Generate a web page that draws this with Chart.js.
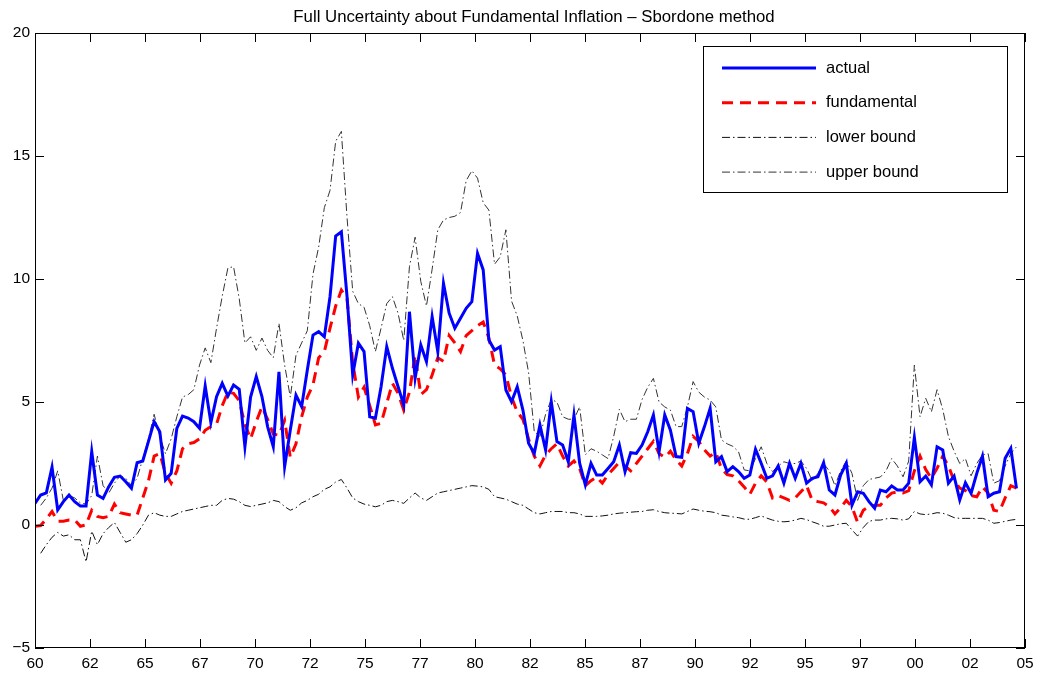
<!DOCTYPE html>
<html>
<head>
<meta charset="utf-8">
<script src="https://cdn.jsdelivr.net/npm/chart.js@4.4.1/dist/chart.umd.min.js"></script>
<style>
  html, body { margin: 0; padding: 0; background: #fff; }
  #wrap { width: 1043px; height: 677px; }
</style>
</head>
<body>
<div id="wrap"><canvas id="chart" width="1043" height="677"></canvas></div>
<script>
// quarterly observations, 1960Q1 onwards (index 0 = first quarter)
const actual = [
  0.88, 1.22, 1.31, 2.35, 0.61, 0.95, 1.22, 0.95, 0.77, 0.77,
  2.98, 1.22, 1.08, 1.56, 1.94, 1.99, 1.76, 1.49, 2.53, 2.60,
  3.4, 4.20, 3.79, 1.83, 2.10, 3.93, 4.43, 4.35, 4.2, 3.93,
  5.65, 4.16, 5.22, 5.76, 5.24, 5.69, 5.52, 3.18, 5.2, 6.03,
  5.22, 4.0, 3.18, 6.23, 2.37, 3.86, 5.28, 4.81, 6.30, 7.72,
  7.86, 7.65, 9.28, 11.75, 11.92, 9.28, 6.10, 7.39, 7.05, 4.40,
  4.34, 5.62, 7.25, 6.37, 5.62, 4.88, 8.67, 5.96, 7.32, 6.64,
  8.47, 7.05, 9.82, 8.61, 8.0, 8.40, 8.81, 9.08, 11.04, 10.37,
  7.52, 7.11, 7.25, 5.49, 5.01, 5.62, 4.67, 3.32, 2.91, 4.07,
  3.05, 5.01, 3.39, 3.25, 2.57, 4.47, 2.51, 1.63, 2.51, 2.03,
  2.03, 2.30, 2.57, 3.25, 2.17, 2.94, 2.91, 3.25, 3.79, 4.47,
  2.98, 4.47, 3.85, 2.78, 2.75, 4.74, 4.61, 3.32, 4.0, 4.74,
  2.57, 2.78, 2.17, 2.37, 2.17, 1.90, 2.03, 3.08, 2.51, 1.90,
  2.0, 2.40, 1.70, 2.51, 1.90, 2.51, 1.70, 1.90, 1.96, 2.53,
  1.42, 1.22, 2.03, 2.51, 0.81, 1.35, 1.29, 0.95, 0.68, 1.42,
  1.35, 1.59, 1.42, 1.42, 1.70, 3.56, 1.76, 1.99, 1.63, 3.18,
  3.05, 1.70, 1.99, 1.02, 1.72, 1.29, 2.10, 2.80, 1.15, 1.29,
  1.35, 2.71, 3.12, 1.49
];
const fundamental = [
  -0.05, -0.02, 0.25, 0.55, 0.15, 0.15, 0.2, 0.2, -0.05, 0.0,
  0.6, 0.35, 0.3, 0.35, 0.85, 0.5, 0.45, 0.4, 0.4, 1.1,
  1.8, 2.8, 2.9, 2.1, 1.7, 2.2, 3.1, 3.3, 3.35, 3.5,
  3.85, 4.0, 4.1, 4.85, 5.4, 5.35, 5.05, 4.1, 3.5, 4.2,
  4.8, 4.3, 3.7, 3.65, 4.25, 2.75, 3.3, 4.4, 5.2, 5.7,
  6.8, 7.05, 8.0, 8.9, 9.55, 9.2, 6.6, 5.2, 5.6, 4.85,
  4.07, 4.13, 4.95, 5.76, 5.35, 4.67, 5.4, 6.9, 5.3, 5.5,
  6.1, 6.8, 6.65, 7.7, 7.4, 7.05, 7.7, 7.9, 8.1, 8.25,
  7.6, 6.5, 6.35, 6.1, 5.2, 4.6, 4.3, 3.5, 2.8, 2.4,
  2.85, 3.1, 3.3, 2.8, 2.4, 2.6, 2.3, 1.6, 1.8, 1.95,
  1.7, 2.05, 2.3, 2.55, 2.4, 2.2, 2.5, 2.8, 3.1, 3.4,
  2.9, 2.75, 3.0, 2.65, 2.4, 2.9, 3.6, 3.4, 3.05, 2.8,
  2.95, 2.3, 2.05, 2.0, 1.8, 1.55, 1.25, 1.7, 2.0, 1.75,
  1.1, 1.2, 1.1, 1.0, 1.1, 1.35, 1.6, 1.0, 0.95, 0.9,
  0.75, 0.45, 0.7, 1.0, 0.75, 0.1, 0.6, 0.75, 0.8, 0.8,
  1.1, 1.3, 1.35, 1.3, 1.4, 2.2, 2.8, 2.25, 1.9, 2.3,
  2.8, 2.4, 1.8, 1.5, 1.4, 1.2, 1.15, 1.55, 1.3, 0.6,
  0.55, 1.1, 1.6, 1.5
];
const lowerBound = [
  null, -1.15, -0.8, -0.5, -0.3, -0.45, -0.4, -0.6, -0.6, -1.5,
  -0.25, -0.8, -0.35, -0.1, 0.1, -0.3, -0.7, -0.6, -0.35, 0.0,
  0.4, 0.5, 0.4, 0.35, 0.35, 0.45, 0.55, 0.6, 0.65, 0.7,
  0.75, 0.8, 0.8, 1.0, 1.08, 1.05, 0.95, 0.8, 0.75, 0.8,
  0.85, 0.9, 1.0, 0.95, 0.75, 0.6, 0.7, 0.9, 1.0, 1.15,
  1.25, 1.45, 1.55, 1.75, 1.85, 1.5, 1.1, 0.95, 0.85, 0.8,
  0.74, 0.8, 0.95, 1.0, 0.95, 0.88, 1.1, 1.3, 1.1, 1.0,
  1.15, 1.3, 1.35, 1.4, 1.45, 1.5, 1.55, 1.6, 1.58, 1.55,
  1.45, 1.15, 1.1, 1.05, 0.95, 0.85, 0.8, 0.65, 0.5, 0.45,
  0.5, 0.55, 0.55, 0.55, 0.5, 0.5, 0.45, 0.35, 0.35, 0.35,
  0.37, 0.4, 0.45, 0.48, 0.5, 0.52, 0.54, 0.55, 0.6, 0.62,
  0.55, 0.5, 0.48, 0.47, 0.45, 0.55, 0.65, 0.6, 0.56, 0.54,
  0.5, 0.4, 0.37, 0.33, 0.3, 0.24, 0.23, 0.3, 0.37, 0.28,
  0.2, 0.15, 0.13, 0.15, 0.2, 0.27, 0.22, 0.13, 0.05, -0.05,
  -0.05, 0.0, 0.05, 0.07, -0.2, -0.45, -0.1, 0.15, 0.2, 0.2,
  0.25, 0.27, 0.25, 0.2, 0.25, 0.55, 0.45, 0.42, 0.45, 0.5,
  0.48, 0.4, 0.3, 0.27, 0.27, 0.27, 0.27, 0.27, 0.2, 0.07,
  0.1, 0.15, 0.2, 0.23
];
const upperBound = [
  null, 0.8, 1.1, 1.5, 2.2, 1.0, 1.2, 1.1, 0.9, 0.85,
  1.2, 2.8, 1.6, 1.3, 1.7, 2.0, 1.9, 1.6, 1.9, 2.7,
  3.5, 4.5, 3.6, 2.9, 3.5, 4.4, 5.2, 5.3, 5.5, 6.5,
  7.2, 6.6, 8.0, 9.3, 10.45, 10.5, 9.2, 7.4, 7.65, 7.1,
  7.6, 7.1, 6.8, 8.2, 6.5, 5.2, 6.9, 7.4, 7.9, 10.2,
  11.3, 12.9, 13.6, 15.6, 16.0, 12.5, 9.5, 9.0, 8.85, 8.1,
  7.05, 8.0, 9.0, 9.28, 8.6, 7.5, 10.5, 11.7, 9.9, 8.9,
  10.4, 12.0, 12.4, 12.5, 12.55, 12.7, 14.0, 14.4, 14.1, 13.1,
  12.8, 10.6, 10.9, 12.0, 9.1, 8.5, 7.5, 6.2, 3.8, 3.6,
  4.5, 5.1, 5.0, 4.4, 4.3, 4.3, 4.8, 2.85, 3.1, 3.0,
  2.85, 2.7, 3.6, 4.7, 4.2, 4.3, 4.3, 5.1, 5.6, 5.96,
  5.0, 4.8, 4.67, 4.0, 4.0, 4.8, 5.83, 5.4, 5.2, 5.08,
  4.8, 3.46, 3.3, 3.2, 2.98, 2.24, 2.2, 2.7, 3.18, 2.5,
  2.17, 2.4, 2.57, 2.5, 2.5, 2.6, 2.3, 1.8, 2.1, 2.5,
  2.2, 1.6, 2.2, 2.6, 2.1, 1.0, 1.6, 1.85, 1.9, 1.95,
  2.2, 2.7, 2.4, 1.96, 2.6, 6.5, 4.4, 5.15, 4.6, 5.5,
  4.7, 3.6, 3.0, 2.5, 2.7, 2.0, 2.5, 2.85, 2.9, 1.7,
  1.8, 2.4, 2.9, 3.18
];

const xTickLabels = ['60','62','65','67','70','72','75','77','80','82','85','87','90','92','95','97','00','02','05'];
const yTicks = [-5, 0, 5, 10, 15, 20];
const xMax = 174.5; // last tick, in quarters from the first observation

const titleText = 'Full Uncertainty about Fundamental Inflation \u2013 Sbordone method';
const FONT = '"Liberation Sans", Arial, Helvetica, sans-serif';

const toPoints = arr => arr.map((v, i) => ({ x: i, y: v }));

// box, inward ticks on all four sides, title and the in-plot legend
const matlabAxes = {
  id: 'matlabAxes',
  afterDraw(chart) {
    const { ctx, chartArea: a, scales } = chart;
    const tl = 9;
    ctx.save();
    ctx.strokeStyle = '#000';
    ctx.lineWidth = 1;
    ctx.strokeRect(a.left + 0.5, a.top + 0.5, a.right - a.left - 1, a.bottom - a.top - 1);
    ctx.beginPath();
    scales.x.ticks.forEach(t => {
      const px = Math.round(scales.x.getPixelForValue(t.value)) + 0.5;
      ctx.moveTo(px, a.bottom); ctx.lineTo(px, a.bottom - tl);
      ctx.moveTo(px, a.top); ctx.lineTo(px, a.top + tl);
    });
    scales.y.ticks.forEach(t => {
      const py = Math.round(scales.y.getPixelForValue(t.value)) + 0.5;
      ctx.moveTo(a.left, py); ctx.lineTo(a.left + tl, py);
      ctx.moveTo(a.right, py); ctx.lineTo(a.right - tl, py);
    });
    ctx.stroke();

    // title
    ctx.fillStyle = '#000';
    ctx.font = '16.8px ' + FONT;
    ctx.textAlign = 'center';
    ctx.textBaseline = 'middle';
    ctx.fillText(titleText, 534, 17);

    // legend
    const lx = 703, ly = 46, lw = 304, lh = 146;
    ctx.fillStyle = '#fff';
    ctx.fillRect(lx, ly, lw, lh);
    ctx.strokeStyle = '#000';
    ctx.lineWidth = 1;
    ctx.strokeRect(lx + 0.5, ly + 0.5, lw, lh);
    ctx.font = '16.5px ' + FONT;
    ctx.textAlign = 'left';
    chart.data.datasets.forEach((ds, i) => {
      const y = ly + 22 + i * 34.7;
      ctx.save();
      ctx.strokeStyle = ds.borderColor;
      ctx.lineWidth = ds.borderWidth;
      ctx.setLineDash(ds.borderDash || []);
      ctx.beginPath();
      ctx.moveTo(722, y);
      ctx.lineTo(816, y);
      ctx.stroke();
      ctx.restore();
      ctx.fillStyle = '#000';
      ctx.fillText(ds.label, 826, y);
    });
    ctx.restore();
  }
};

new Chart(document.getElementById('chart'), {
  type: 'line',
  data: {
    datasets: [
      { label: 'actual', data: toPoints(actual), borderColor: '#0000ff', borderWidth: 3 },
      { label: 'fundamental', data: toPoints(fundamental), borderColor: '#ff0000', borderWidth: 3, borderDash: [11, 7] },
      { label: 'lower bound', data: toPoints(lowerBound), borderColor: '#111', borderWidth: 1, borderDash: [8, 3, 1.5, 3] },
      { label: 'upper bound', data: toPoints(upperBound), borderColor: '#333', borderWidth: 1, borderDash: [8, 3, 1.5, 3] }
    ]
  },
  options: {
    responsive: false,
    animation: false,
    devicePixelRatio: 1,
    layout: { padding: { top: 33, right: 18, left: 0, bottom: 0 } },
    elements: { point: { radius: 0 }, line: { tension: 0, borderJoinStyle: 'miter' } },
    plugins: { legend: { display: false }, tooltip: { enabled: false }, title: { display: false } },
    scales: {
      x: {
        type: 'linear', min: 0, max: xMax,
        afterBuildTicks: s => { s.ticks = xTickLabels.map((_, j) => ({ value: j * xMax / (xTickLabels.length - 1) })); },
        afterFit: s => { s.height = 29; },
        grid: { drawOnChartArea: false, drawTicks: false },
        border: { display: false },
        ticks: {
          padding: 6, color: '#000', font: { family: FONT, size: 15.5 }, maxRotation: 0, autoSkip: false,
          callback: (v, i) => xTickLabels[i]
        }
      },
      y: {
        min: -5, max: 20,
        afterBuildTicks: s => { s.ticks = yTicks.map(v => ({ value: v })); },
        afterFit: s => { s.width = 35; },
        grid: { drawOnChartArea: false, drawTicks: false },
        border: { display: false },
        ticks: {
          padding: 5, color: '#000', font: { family: FONT, size: 15.5 },
          callback: v => String(v).replace('-', '\u2212')
        }
      }
    }
  },
  plugins: [matlabAxes]
});
</script>
</body>
</html>
